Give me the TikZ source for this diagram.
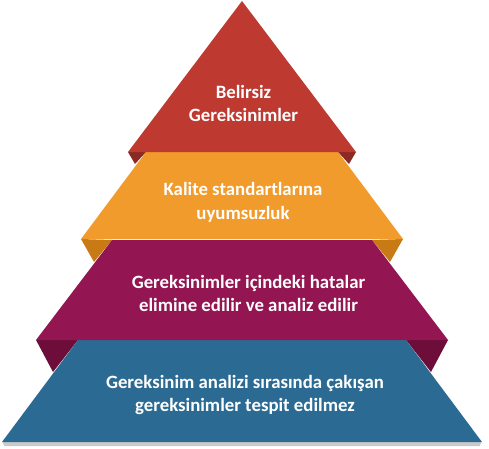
\documentclass[tikz,border=0pt]{standalone}
\usepackage{fontspec}
\setmainfont{Carlito}
\definecolor{redface}{HTML}{BE3A31}
\definecolor{redflap}{HTML}{8B2A22}
\definecolor{orangeface}{HTML}{F09B2B}
\definecolor{orangeflap}{HTML}{C87A14}
\definecolor{purpleface}{HTML}{931552}
\definecolor{purpleflap}{HTML}{6C0D3A}
\definecolor{blueface}{HTML}{2B6B93}

\begin{document}
\begin{tikzpicture}[x=1pt, y=-1pt,
	layertext/.style={text=white, align=center, font=\fontsize{18.8}{23.2}\selectfont\bfseries}]
		\def\cx{242} % Axis of the pyramid
		
		\useasboundingbox (0,0) rectangle (489,448);
		
		% Soft shadow below the base
		\fill[black!35, opacity=0.6] (\cx-239,442) -- (\cx+239,442) -- (\cx+238,446) -- (\cx-238,446) -- cycle;
		
		% Folded flaps between the layers
		\fill[redflap] (\cx-114,152) -- (\cx-96,152) -- (\cx-107,164) -- cycle;
		\fill[redflap] (\cx+114,152) -- (\cx+96,152) -- (\cx+107,164) -- cycle;
		\fill[orangeflap] (\cx-161,239) -- (\cx-130,240) -- (\cx-148,262) -- cycle;
		\fill[orangeflap] (\cx+161,239) -- (\cx+130,240) -- (\cx+148,262) -- cycle;
		\fill[purpleflap] (\cx-206,340) -- (\cx-164,340) -- (\cx-189,372) -- cycle;
		\fill[purpleflap] (\cx+206,340) -- (\cx+164,340) -- (\cx+189,372) -- cycle;
		
		% Front faces, from the base up
		\fill[blueface] (\cx-164,340) -- (\cx+164,340) -- (\cx+240,442) -- (\cx-240,442) -- cycle;
		\fill[purpleface] (\cx-130,240) -- (\cx+130,240) -- (\cx+206,340) -- (\cx-206,340) -- cycle;
		\fill[orangeface] (\cx-96,152) -- (\cx+96,152) -- (\cx+161,239) -- (\cx-161,239) -- cycle;
		\fill[redface] (\cx,1) -- (\cx+114,152) -- (\cx-114,152) -- cycle;
		
		% Texts of the layers
		\node[layertext] (belirsiz) at (243.5,103.2) {Belirsiz\\Gereksinimler};
		\node[layertext] (kalite) at (243,202.4) {Kalite standartlarına\\uyumsuzluk};
		\node[layertext] (hatalar) at (248.5,293.8) {Gereksinimler içindeki hatalar\\elimine edilir ve analiz edilir};
		\node[layertext] (cakisan) at (245,394.7) {Gereksinim analizi sırasında çakışan\\gereksinimler tespit edilmez};
	\end{tikzpicture}
\end{document}
